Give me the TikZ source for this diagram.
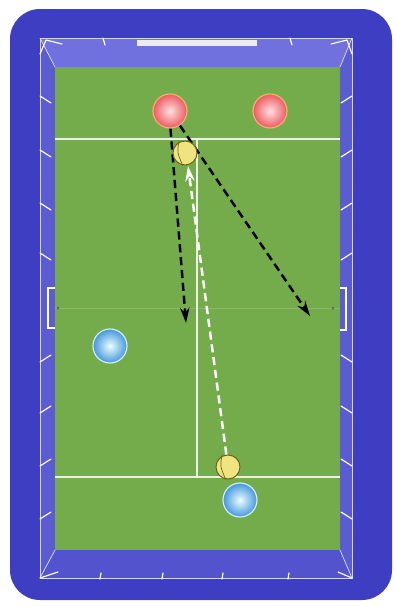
\documentclass[tikz,border=0pt]{standalone}
\usepackage{tikz}
\usetikzlibrary{arrows.meta, positioning, shapes.geometric}

\definecolor{rinkblue}{RGB}{62,62,194}
\definecolor{boardblue}{RGB}{112,112,222}
\definecolor{sideblue}{RGB}{92,92,210}
\definecolor{turf}{RGB}{116,172,76}
\definecolor{midline}{RGB}{138,186,102}
\definecolor{ballyellow}{RGB}{240,228,128}
\definecolor{ballrim}{RGB}{110,100,30}
\definecolor{redrim}{RGB}{246,176,112}

\tikzset{
  redplayer/.style={circle, minimum size=1.02cm, inner sep=0pt, draw=redrim, line width=1pt, inner color=red!12!white, outer color={rgb,255:red,236;green,90;blue,96}},
  blueplayer/.style={circle, minimum size=1.02cm, inner sep=0pt, draw=cyan!20!white, line width=1pt, inner color=cyan!8!white, outer color={rgb,255:red,70;green,150;blue,220}},
  tennisball/.style={circle, minimum size=0.72cm, inner sep=0pt, draw=ballrim, line width=0.9pt, fill=ballyellow},
  passline/.style={dash pattern=on 7pt off 4pt, line width=2.1pt, -{Stealth[length=13pt, width=8pt]}},
  tick/.style={white, line width=1pt, line cap=round}
}

\begin{document}
\begin{tikzpicture}[x=0.03cm, y=-0.03cm]

% Page and outer rink (pixel grid, y downwards)
\useasboundingbox (0,0) rectangle (396,607);
\fill[white] (0,0) rectangle (396,607);
\fill[rinkblue, rounded corners=0.9cm] (10,9) rectangle (392,600);

% Boards in perspective
\fill[boardblue] (40,38) -- (352,38) -- (340,67) -- (55,67) -- cycle;
\fill[sideblue] (40,38) -- (55,67) -- (55,550) -- (40,578) -- cycle;
\fill[sideblue] (352,38) -- (340,67) -- (340,550) -- (352,578) -- cycle;
\fill[sideblue!70!rinkblue] (40,578) -- (55,550) -- (340,550) -- (352,578) -- cycle;
\draw[white!70!boardblue, line width=0.6pt] (40,38) rectangle (352,578);
\draw[white!80!boardblue, line width=0.6pt] (40,38) -- (55,67) (352,38) -- (340,67)
  (40,578) -- (55,550) (352,578) -- (340,550);

% Corner marks
\draw[tick] (46,40) -- (40,54) (46,40) -- (62,44);
\draw[tick] (347,40) -- (352,54) (347,40) -- (331,44);
\draw[tick] (40,578) -- (58,572);
\draw[tick] (352,578) -- (338,572);

% Top bar
\fill[white!85!gray] (137,40) rectangle (257,46);

% Ticks on the boards
\foreach \x in {103,290} \draw[tick] (\x,38) -- (\x+2,45);
\foreach \x in {100,162,222,288} \draw[tick] (\x+1,573) -- (\x,579);
\foreach \y in {96,150,203,253} {
  \draw[tick] (40,\y) -- (51,\y+7);
  \draw[tick] (352,\y) -- (341,\y+7);
}
\foreach \y in {362,413,466,519} {
  \draw[tick] (40,\y) -- (51,\y-7);
  \draw[tick] (352,\y) -- (341,\y-7);
}

% Court
\fill[turf] (55,67) rectangle (340,550);
\draw[midline, line width=0.7pt] (55,308) -- (340,308);
\fill[black!60] (58,308) circle (1.5) (333,308) circle (1.5);
\draw[white!85!turf, line width=1.2pt] (55,139) -- (340,139);
\draw[white!85!turf, line width=1.2pt] (55,477) -- (340,477);
\draw[white!85!turf, line width=1.2pt] (197,139) -- (197,477);

% Goals
\draw[white, line width=1pt] (55,288) -- (48,288) -- (48,328) -- (55,328);
\draw[white, line width=1pt] (340,288) -- (346,288) -- (346,330) -- (340,330);

% Players
\node[redplayer] (red1) at (170,111) {};
\node[redplayer] (red2) at (270,111) {};
\node[blueplayer] (blue1) at (110,346) {};
\node[blueplayer] (blue2) at (240,500) {};

% Passes
\coordinate (short) at (186,323);
\coordinate (long) at (310,316);
\coordinate (back) at (188,166);
\draw[passline, black] ([xshift=0.4pt]red1.south) -- (short);
\draw[passline, black] (red1) -- (long);
\node[tennisball] (ball2) at (228,467) {};
\draw[passline, white] (ball2) -- (back);

% Balls
\node[tennisball] (ball1) at (185,153) {};
\draw[ballrim, line width=0.6pt] ([xshift=-5pt]ball1.north) .. controls (177,152) .. ([xshift=-2pt]ball1.south);
\draw[ballrim, line width=0.6pt] ([xshift=-5pt]ball2.north) .. controls (220,466) .. ([xshift=-2pt]ball2.south);

\end{tikzpicture}
\end{document}
